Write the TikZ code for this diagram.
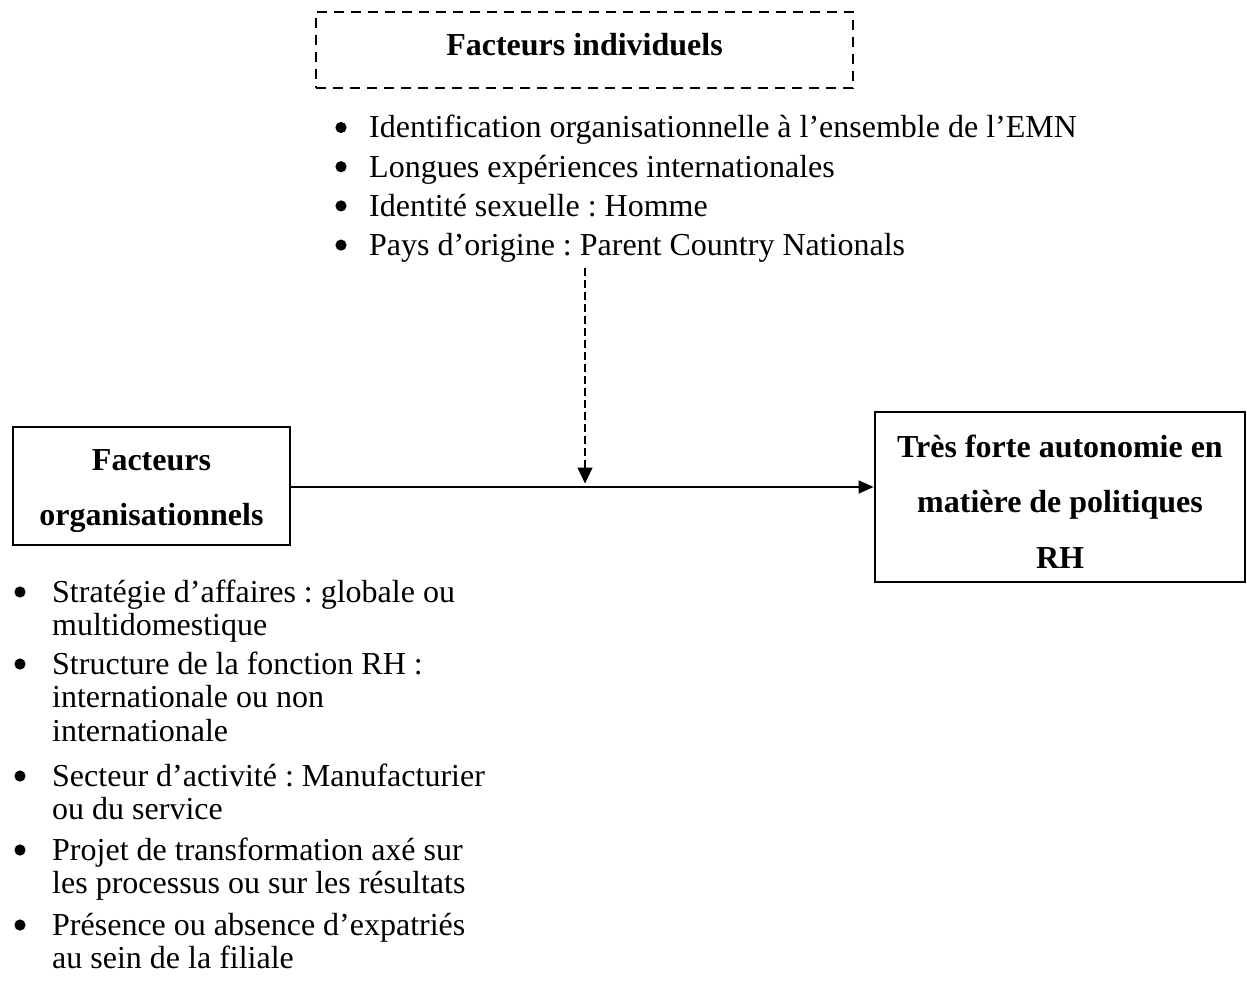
\documentclass[tikz,border=0pt]{standalone}
\usepackage{fontspec}
\setmainfont{Liberation Serif}
\frenchspacing
\usetikzlibrary{arrows.meta}
% extra height on a first line, to lower a text block in its box
\newcommand\toplift{\rule{0pt}{31pt}}
\begin{document}
\begin{tikzpicture}[x=1pt,y=-1pt,
  listtxt/.style={font=\fontsize{32}{38}\selectfont, inner sep=0pt, anchor=base west},
  boxtitle/.style={draw, line width=2.8pt, align=center, inner sep=0pt,
    font=\fontsize{32}{55.5}\selectfont\bfseries},
  dashbox/.style={draw, line width=2.8pt, dash pattern=on 10pt off 7pt,
    inner sep=0pt, text height=22pt, text depth=10pt,
    font=\fontsize{32}{38}\selectfont\bfseries},
  link/.style={line width=1.3pt, -{Triangle[length=15pt,width=13pt]}},
  dashlink/.style={line width=1.3pt, dash pattern=on 8pt off 4pt,
    -{Triangle[length=16pt,width=15pt]}},
  dot/.style={fill=black},
]
\useasboundingbox (0,0) rectangle (1247,981);

% individual factors
\node[dashbox, minimum width=537pt, minimum height=76pt] (indiv) at (584.5,50)
  {Facteurs individuels};
\node[listtxt] (indivlist) at (369,138) {\vtop{\baselineskip=39.2pt
  \hbox{Identification organisationnelle à l’ensemble de l’EMN}
  \hbox{Longues expériences internationales}
  \hbox{Identité sexuelle : Homme}
  \hbox{Pays d’origine : Parent Country Nationals}}};
\foreach \k in {0,1,2,3}
  \fill[dot] (indivlist.base west) ++(-28,{\k*39.2-10.5}) circle (5.6pt);

% organisational factors
\node[boxtitle, minimum width=277pt, minimum height=118pt] (org) at (151.5,486)
  {\toplift Facteurs\\organisationnels};

% outcome
\node[boxtitle, minimum width=370pt, minimum height=170pt] (auto) at (1060,497)
  {\toplift Très forte autonomie en\\matière de politiques\\RH};

% organisational factor list
\node[listtxt] (o1) at (52,602) {\vtop{\baselineskip=33.5pt
  \hbox{Stratégie d’affaires : globale ou}
  \hbox{multidomestique}}};
\node[listtxt] (o2) at (52,674) {\vtop{\baselineskip=33.5pt
  \hbox{Structure de la fonction RH :}
  \hbox{internationale ou non}
  \hbox{internationale}}};
\node[listtxt] (o3) at (52,786) {\vtop{\baselineskip=33.5pt
  \hbox{Secteur d’activité : Manufacturier}
  \hbox{ou du service}}};
\node[listtxt] (o4) at (52,860) {\vtop{\baselineskip=33.5pt
  \hbox{Projet de transformation axé sur}
  \hbox{les processus ou sur les résultats}}};
\node[listtxt] (o5) at (52,935) {\vtop{\baselineskip=33.5pt
  \hbox{Présence ou absence d’expatriés}
  \hbox{au sein de la filiale}}};
\foreach \n in {o1,o2,o3,o4,o5}
  \fill[dot] (\n.base west) ++(-32,-10) circle (5.6pt);

% connectors
\coordinate (modtop) at (585,268);
\coordinate (join) at (585,487);
\draw[link] (org.east |- join) -- (auto.west |- join);
\draw[dashlink, shorten >=3.5pt] (modtop) -- (join);
\end{tikzpicture}
\end{document}
